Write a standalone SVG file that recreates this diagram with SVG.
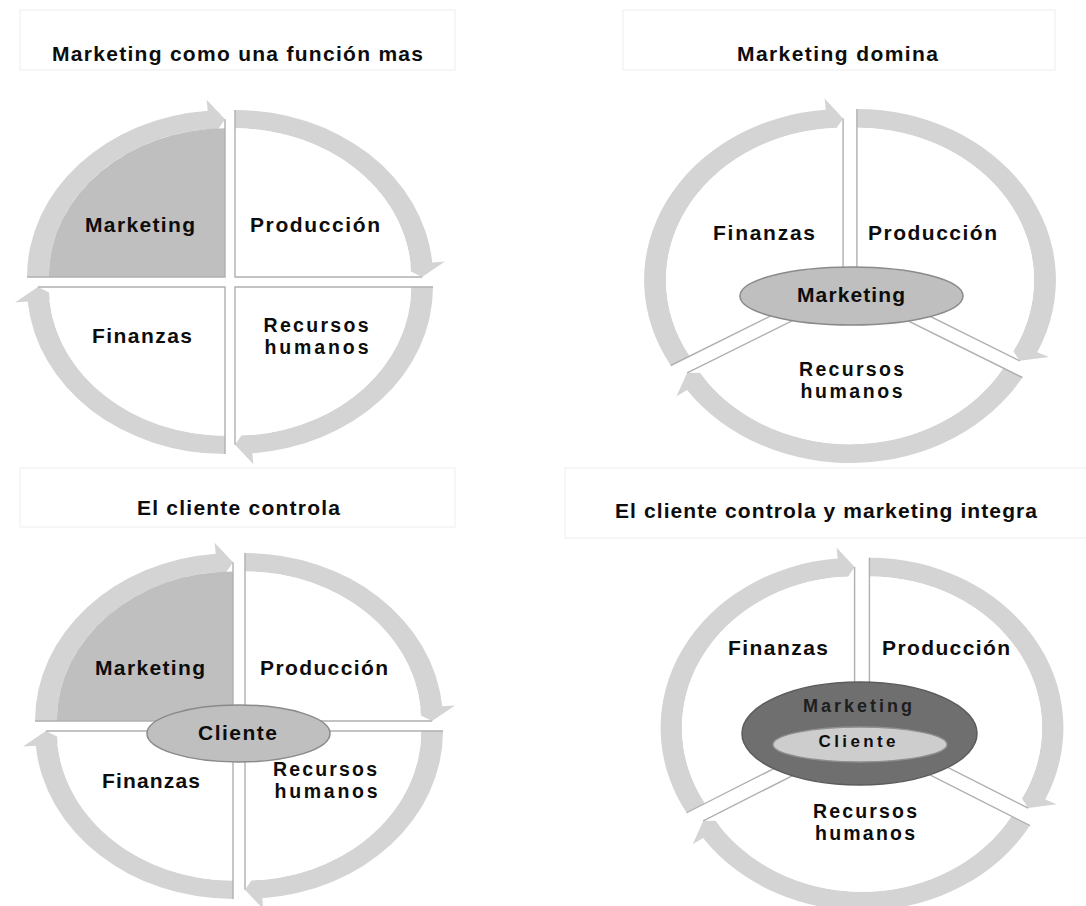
<svg xmlns="http://www.w3.org/2000/svg" xmlns:xlink="http://www.w3.org/1999/xlink" width="1086" height="906" viewBox="0 0 1086 906">
<style>
text{font-family:"Liberation Sans",Arial,sans-serif;font-weight:bold;fill:#0d0d0d;text-anchor:middle}
.t{font-size:21px}
.m{font-size:19.5px}
.s{font-size:18px}
.band{fill:#d4d4d4}
.wedge{fill:#ffffff}
.mk{fill:#bfbfbf}
.edge{fill:none;stroke:#b0b0b0;stroke-width:1.4}
.tbox{fill:none;stroke:#f3f3f3;stroke-width:1.5}
.ell{fill:#bfbfbf;stroke:#8a8a8a;stroke-width:1.5}
</style>
<defs>
<path id="w90" d="M0,0 L0,-89 A89,89 0 0 1 89,0 Z"/>
<path id="e90" d="M0,-100 L0,0 L94.5,0" vector-effect="non-scaling-stroke"/>
<path id="a90" d="M0,-100 A100,100 0 0 1 99.62,-8.716 L106.09,-9.283 L94.5,0 L82.19,-7.191 L88.66,-7.757 A89,89 0 0 0 0,-89 Z"/>
<path id="w120" d="M0,0 L0,-89 A89,89 0 0 1 77.08,44.5 Z"/>
<path id="e120" d="M0,-100 L0,0 L81.84,47.25" vector-effect="non-scaling-stroke"/>
<path id="a120" d="M0,-100 A100,100 0 0 1 90.63,42.26 L96.52,45.01 L81.84,47.25 L74.77,34.87 L80.66,37.61 A89,89 0 0 0 0,-89 Z"/>
</defs>
<rect width="1086" height="906" fill="#ffffff"/>

<!-- Diagram 1 -->
<g id="d1-title"><rect class="tbox" x="20" y="10" width="435" height="60"/><text class="t" x="237.5" y="61" textLength="371" lengthAdjust="spacing">Marketing como una función mas</text></g>
<g id="d1-connectors">
<use href="#a90" class="band" transform="translate(235,277) scale(1.98,1.67)"/>
<use href="#a90" class="band" transform="translate(235,287) scale(1.98,1.67) rotate(90)"/>
<use href="#a90" class="band" transform="translate(225,287) scale(1.98,1.67) rotate(180)"/>
<use href="#a90" class="band" transform="translate(225,277) scale(1.98,1.67) rotate(270)"/>
</g>
<g id="d1-produccion"><use href="#w90" class="wedge" transform="translate(235,277) scale(1.98,1.67)"/><use href="#e90" class="edge" transform="translate(235,277) scale(1.98,1.67)"/><text class="t" x="315" y="232" textLength="130" lengthAdjust="spacing">Producción</text></g>
<g id="d1-recursos"><use href="#w90" class="wedge" transform="translate(235,287) scale(1.98,1.67) rotate(90)"/><use href="#e90" class="edge" transform="translate(235,287) scale(1.98,1.67) rotate(90)"/><text class="m" x="316" y="332" textLength="105" lengthAdjust="spacing">Recursos</text><text class="m" x="316.5" y="354" textLength="104" lengthAdjust="spacing">humanos</text></g>
<g id="d1-finanzas"><use href="#w90" class="wedge" transform="translate(225,287) scale(1.98,1.67) rotate(180)"/><use href="#e90" class="edge" transform="translate(225,287) scale(1.98,1.67) rotate(180)"/><text class="t" x="142" y="343" textLength="100" lengthAdjust="spacing">Finanzas</text></g>
<g id="d1-marketing"><use href="#w90" class="mk" transform="translate(225,277) scale(1.98,1.67) rotate(270)"/><use href="#e90" class="edge" transform="translate(225,277) scale(1.98,1.67) rotate(270)"/><text class="t" x="140" y="232" textLength="110" lengthAdjust="spacing">Marketing</text></g>

<!-- Diagram 2 -->
<g id="d2-title"><rect class="tbox" x="623" y="10" width="432" height="60"/><text class="t" x="837.5" y="61" textLength="201" lengthAdjust="spacing">Marketing domina</text></g>
<g id="d2-connectors">
<use href="#a120" class="band" transform="translate(856.9,280) scale(1.99,1.71)"/>
<use href="#a120" class="band" transform="translate(850,292) scale(1.99,1.71) rotate(120)"/>
<use href="#a120" class="band" transform="translate(843.1,280) scale(1.99,1.71) rotate(240)"/>
</g>
<g id="d2-produccion"><use href="#w120" class="wedge" transform="translate(856.9,280) scale(1.99,1.71)"/><use href="#e120" class="edge" transform="translate(856.9,280) scale(1.99,1.71)"/><text class="t" x="932.5" y="240" textLength="129" lengthAdjust="spacing">Producción</text></g>
<g id="d2-recursos"><use href="#w120" class="wedge" transform="translate(850,292) scale(1.99,1.71) rotate(120)"/><use href="#e120" class="edge" transform="translate(850,292) scale(1.99,1.71) rotate(120)"/><text class="m" x="851.5" y="376" textLength="105" lengthAdjust="spacing">Recursos</text><text class="m" x="851.5" y="398" textLength="102" lengthAdjust="spacing">humanos</text></g>
<g id="d2-finanzas"><use href="#w120" class="wedge" transform="translate(843.1,280) scale(1.99,1.71) rotate(240)"/><use href="#e120" class="edge" transform="translate(843.1,280) scale(1.99,1.71) rotate(240)"/><text class="t" x="764" y="240" textLength="102" lengthAdjust="spacing">Finanzas</text></g>
<g id="d2-marketing"><ellipse class="ell" cx="851.5" cy="296" rx="111.5" ry="29"/><text class="t" x="851" y="302" textLength="108" lengthAdjust="spacing">Marketing</text></g>

<!-- Diagram 3 -->
<g id="d3-title"><rect class="tbox" x="20" y="468" width="435" height="59"/><text class="t" x="238.5" y="515" textLength="203" lengthAdjust="spacing">El cliente controla</text></g>
<g id="d3-connectors">
<use href="#a90" class="band" transform="translate(245,721) scale(1.98,1.68)"/>
<use href="#a90" class="band" transform="translate(245,731) scale(1.98,1.68) rotate(90)"/>
<use href="#a90" class="band" transform="translate(233,731) scale(1.98,1.68) rotate(180)"/>
<use href="#a90" class="band" transform="translate(233,721) scale(1.98,1.68) rotate(270)"/>
</g>
<g id="d3-produccion"><use href="#w90" class="wedge" transform="translate(245,721) scale(1.98,1.68)"/><use href="#e90" class="edge" transform="translate(245,721) scale(1.98,1.68)"/><text class="t" x="324" y="675" textLength="128" lengthAdjust="spacing">Producción</text></g>
<g id="d3-recursos"><use href="#w90" class="wedge" transform="translate(245,731) scale(1.98,1.68) rotate(90)"/><use href="#e90" class="edge" transform="translate(245,731) scale(1.98,1.68) rotate(90)"/><text class="m" x="325" y="776" textLength="104" lengthAdjust="spacing">Recursos</text><text class="m" x="326" y="798" textLength="103" lengthAdjust="spacing">humanos</text></g>
<g id="d3-finanzas"><use href="#w90" class="wedge" transform="translate(233,731) scale(1.98,1.68) rotate(180)"/><use href="#e90" class="edge" transform="translate(233,731) scale(1.98,1.68) rotate(180)"/><text class="t" x="151" y="788" textLength="98" lengthAdjust="spacing">Finanzas</text></g>
<g id="d3-marketing"><use href="#w90" class="mk" transform="translate(233,721) scale(1.98,1.68) rotate(270)"/><use href="#e90" class="edge" transform="translate(233,721) scale(1.98,1.68) rotate(270)"/><text class="t" x="150" y="675" textLength="110" lengthAdjust="spacing">Marketing</text></g>
<g id="d3-cliente"><ellipse class="ell" cx="238.5" cy="733.5" rx="91.5" ry="28.5"/><text class="t" x="237.5" y="740" textLength="79" lengthAdjust="spacing">Cliente</text></g>

<!-- Diagram 4 -->
<g id="d4-title"><rect class="tbox" x="565" y="468" width="530" height="70"/><text class="t" x="826" y="518" textLength="422" lengthAdjust="spacing">El cliente controla y marketing integra</text></g>
<g id="d4-connectors">
<use href="#a120" class="band" transform="translate(869.4,727.75) scale(1.94,1.70)"/>
<use href="#a120" class="band" transform="translate(862,740.5) scale(1.94,1.70) rotate(120)"/>
<use href="#a120" class="band" transform="translate(854.6,727.75) scale(1.94,1.70) rotate(240)"/>
</g>
<g id="d4-produccion"><use href="#w120" class="wedge" transform="translate(869.4,727.75) scale(1.94,1.70)"/><use href="#e120" class="edge" transform="translate(869.4,727.75) scale(1.94,1.70)"/><text class="t" x="946" y="655" textLength="128" lengthAdjust="spacing">Producción</text></g>
<g id="d4-recursos"><use href="#w120" class="wedge" transform="translate(862,740.5) scale(1.94,1.70) rotate(120)"/><use href="#e120" class="edge" transform="translate(862,740.5) scale(1.94,1.70) rotate(120)"/><text class="m" x="865" y="818" textLength="104" lengthAdjust="spacing">Recursos</text><text class="m" x="865" y="840" textLength="100" lengthAdjust="spacing">humanos</text></g>
<g id="d4-finanzas"><use href="#w120" class="wedge" transform="translate(854.6,727.75) scale(1.94,1.70) rotate(240)"/><use href="#e120" class="edge" transform="translate(854.6,727.75) scale(1.94,1.70) rotate(240)"/><text class="t" x="778" y="655" textLength="100" lengthAdjust="spacing">Finanzas</text></g>
<g id="d4-marketing"><ellipse cx="859.5" cy="733.5" rx="117.5" ry="51.5" fill="#6f6f6f" stroke="#5c5c5c" stroke-width="1.5"/><text class="s" x="857.5" y="712" textLength="109" lengthAdjust="spacing" style="fill:#1e1e1e">Marketing</text></g>
<g id="d4-cliente"><ellipse cx="860" cy="744.5" rx="87" ry="17.5" fill="#cdcdcd" stroke="#8f8f8f" stroke-width="1.5"/><text class="s" x="857" y="747" textLength="77" lengthAdjust="spacing" style="font-size:17px">Cliente</text></g>
</svg>
